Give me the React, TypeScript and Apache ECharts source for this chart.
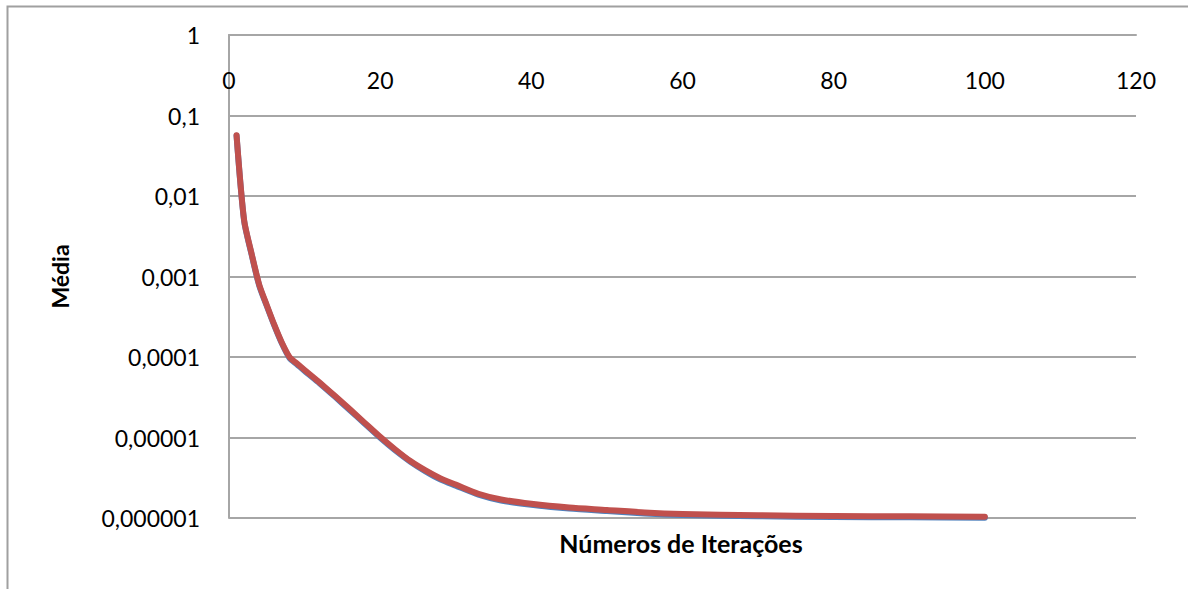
import React, { useEffect, useRef } from "react";
import * as echarts from "echarts";

// Iteration numbers where the mean was sampled
const iteracoes = [1, 2, 3, 4, 5, 6, 7, 8, 9, 10, 12, 14, 16, 18, 20, 22, 24, 26, 28, 30, 33, 36, 40, 45, 50, 55, 60, 70, 80, 90, 100];

// Mean value per iteration (two runs, nearly coincident)
const mediaA = [0.056, 0.0049, 0.00186, 0.00077, 0.00043, 0.000245, 0.000147, 0.0000975, 0.000081, 0.000067, 0.000047, 0.0000322, 0.0000218, 0.0000147, 0.0000099, 0.0000069, 0.000005, 0.0000038, 0.000003, 0.00000252, 0.00000195, 0.00000165, 0.00000146, 0.00000131, 0.00000122, 0.00000114, 0.00000109, 0.00000105, 0.00000103, 0.00000102, 0.00000101];
const mediaB = [0.057, 0.005, 0.0019, 0.00079, 0.00044, 0.00025, 0.00015, 0.0001, 0.000083, 0.000069, 0.000048, 0.000033, 0.0000224, 0.0000151, 0.0000102, 0.0000071, 0.0000051, 0.0000039, 0.0000031, 0.0000026, 0.000002, 0.0000017, 0.0000015, 0.00000135, 0.00000126, 0.00000117, 0.00000112, 0.00000108, 0.00000106, 0.00000105, 0.00000104];

const FONT = "Lato, 'Open Sans', sans-serif";

function formatDecimal(v: number): string {
  const e = Math.round(Math.log10(v));
  if (e >= 0) return String(Math.round(v));
  return "0," + "0".repeat(-e - 1) + "1";
}

export default function App() {
  const ref = useRef<HTMLDivElement>(null);

  useEffect(() => {
    if (!ref.current) return;
    const chart = echarts.init(ref.current, null, { renderer: "svg" });
    const gridColor = "#a6a6a6";
    chart.setOption({
      animation: false,
      backgroundColor: "#ffffff",
      grid: { left: 229, top: 35, right: 52, bottom: 71, containLabel: false },
      xAxis: {
        type: "value",
        position: "top",
        min: 0,
        max: 120,
        interval: 20,
        axisLine: { show: true, lineStyle: { color: gridColor, width: 2 } },
        axisTick: { show: false },
        splitLine: { show: false },
        axisLabel: {
          inside: true,
          margin: 33,
          color: "#000",
          fontFamily: FONT,
          fontSize: 23,
        },
      },
      yAxis: {
        type: "log",
        logBase: 10,
        min: 0.000001,
        max: 1,
        name: "Média",
        nameLocation: "middle",
        nameRotate: 90,
        nameGap: 158,
        nameTextStyle: { color: "#000", fontFamily: FONT, fontSize: 23, fontWeight: "bold" },
        axisLine: { show: true, lineStyle: { color: gridColor, width: 2 } },
        axisTick: { show: false },
        splitLine: { show: true, lineStyle: { color: gridColor, width: 2 } },
        axisLabel: {
          margin: 29,
          color: "#000",
          fontFamily: FONT,
          fontSize: 23,
          formatter: (v: number) => formatDecimal(v),
        },
      },
      series: [
        {
          type: "line",
          data: iteracoes.map((x, i) => [x, mediaA[i]]),
          showSymbol: false,
          smooth: 0.25,
          lineStyle: { color: "#4F81BD", width: 6, cap: "round", join: "round" },
          itemStyle: { color: "#4F81BD" },
          z: 2,
        },
        {
          type: "line",
          data: iteracoes.map((x, i) => [x, mediaB[i]]),
          showSymbol: false,
          smooth: 0.25,
          lineStyle: { color: "#C0504D", width: 6, cap: "round", join: "round" },
          itemStyle: { color: "#C0504D" },
          z: 3,
        },
      ],
      graphic: [
        {
          type: "rect",
          left: 5,
          top: 4,
          shape: { width: 1400, height: 800 },
          style: { fill: "none", stroke: "#a0a0a0", lineWidth: 2 },
          z: -1,
        },
        {
          type: "text",
          x: 681,
          y: 543,
          style: {
            text: "Números de Iterações",
            fill: "#000",
            font: `bold 25px ${FONT}`,
            textAlign: "center",
            textVerticalAlign: "middle",
          },
        },
      ],
    });
    return () => chart.dispose();
  }, []);

  return (
    <div
      ref={ref}
      style={{ position: "fixed", left: 0, top: 0, width: 1188, height: 589 }}
    />
  );
}
